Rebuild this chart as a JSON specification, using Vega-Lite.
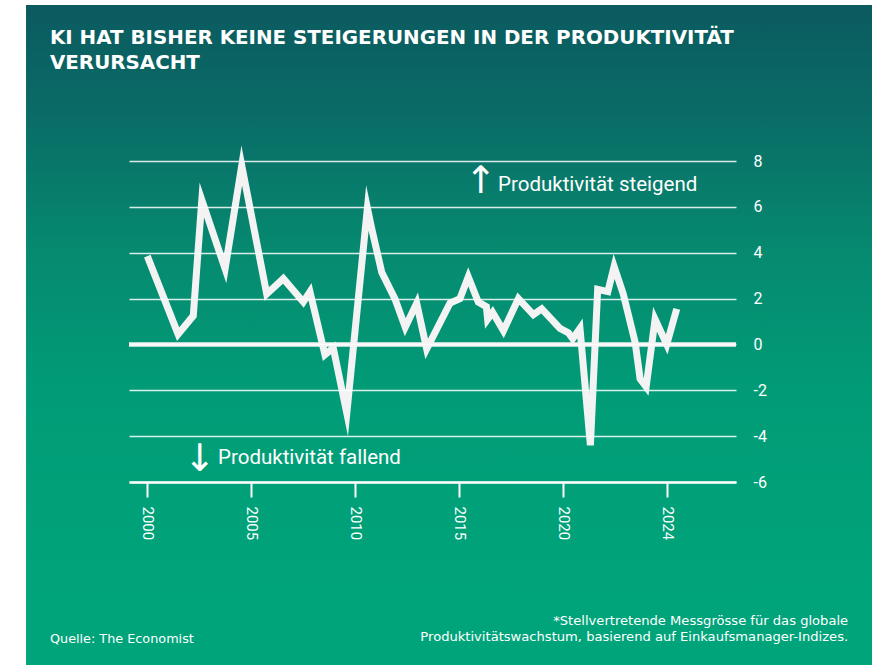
{
  "$schema": "https://vega.github.io/schema/vega-lite/v6.json",
  "width": 607,
  "height": 321,
  "autosize": {"type": "none"},
  "padding": {"left": 129, "top": 161, "right": 136, "bottom": 183},
  "background": "#ffffff",
  "config": {"view": {"stroke": null}, "font": "Roboto"},
  "layer": [
    {
      "data": {"values": [{}]},
      "mark": {
        "type": "rect",
        "fill": {
          "gradient": "linear",
          "x1": 0, "y1": 0, "x2": 0, "y2": 1,
          "stops": [
            {"offset": 0, "color": "#0b5a5f"},
            {"offset": 0.15, "color": "#0a6b66"},
            {"offset": 0.35, "color": "#068a70"},
            {"offset": 0.55, "color": "#019c77"},
            {"offset": 0.8, "color": "#00a37a"},
            {"offset": 1, "color": "#00a57b"}
          ]
        }
      },
      "encoding": {
        "x": {"datum": 1994.17, "type": "quantitative", "scale": {"domain": [1999.12, 2028.3], "nice": false, "zero": false}},
        "x2": {"datum": 2040},
        "y": {"datum": 14.8, "type": "quantitative", "scale": {"domain": [-6, 8], "nice": false, "zero": false}},
        "y2": {"datum": -16}
      }
    },
    {
      "data": {"values": [{}]},
      "mark": {"type": "rule", "color": "#f2f2f2", "strokeWidth": 4.5},
      "encoding": {"y": {"datum": 0, "type": "quantitative"}}
    },
    {
      "data": {"values": [
        {"t": 2000.0, "v": 3.85},
        {"t": 2001.48, "v": 0.45},
        {"t": 2002.21, "v": 1.25},
        {"t": 2002.62, "v": 6.3},
        {"t": 2003.74, "v": 3.3},
        {"t": 2004.54, "v": 7.8},
        {"t": 2005.74, "v": 2.2},
        {"t": 2006.54, "v": 2.87},
        {"t": 2007.5, "v": 1.85},
        {"t": 2007.82, "v": 2.3},
        {"t": 2008.54, "v": -0.45},
        {"t": 2008.94, "v": -0.15},
        {"t": 2009.59, "v": -3.0},
        {"t": 2010.58, "v": 5.95},
        {"t": 2010.8, "v": 5.0},
        {"t": 2011.27, "v": 3.15},
        {"t": 2011.9, "v": 2.0},
        {"t": 2012.4, "v": 0.75},
        {"t": 2012.95, "v": 1.8},
        {"t": 2013.43, "v": -0.2},
        {"t": 2014.55, "v": 1.8},
        {"t": 2015.03, "v": 2.0},
        {"t": 2015.43, "v": 2.95},
        {"t": 2015.91, "v": 1.85},
        {"t": 2016.3, "v": 1.65},
        {"t": 2016.36, "v": 1.1},
        {"t": 2016.6, "v": 1.4},
        {"t": 2017.12, "v": 0.6},
        {"t": 2017.84, "v": 2.0},
        {"t": 2018.56, "v": 1.3},
        {"t": 2018.96, "v": 1.55},
        {"t": 2019.84, "v": 0.7},
        {"t": 2020.25, "v": 0.5},
        {"t": 2020.45, "v": 0.25},
        {"t": 2020.8, "v": 0.7},
        {"t": 2021.3, "v": -4.4},
        {"t": 2021.65, "v": 2.4},
        {"t": 2022.14, "v": 2.3},
        {"t": 2022.44, "v": 3.4},
        {"t": 2022.88, "v": 2.2},
        {"t": 2023.45, "v": 0.1},
        {"t": 2023.69, "v": -1.5},
        {"t": 2023.98, "v": -1.85},
        {"t": 2024.41, "v": 1.1},
        {"t": 2024.97, "v": 0.0},
        {"t": 2025.45, "v": 1.55}
      ]},
      "mark": {"type": "line", "color": "#f3f3f3", "strokeWidth": 7, "strokeJoin": "miter", "strokeMiterLimit": 10, "strokeCap": "butt"},
      "encoding": {
        "x": {
          "field": "t", "type": "quantitative",
          "axis": {
            "orient": "bottom", "title": null, "grid": false,
            "values": [2000, 2005, 2010, 2015, 2020, 2025],
            "labelExpr": "datum.value == 2025 ? '2024' : '' + datum.value",
            "domainColor": "#ffffff", "domainWidth": 2.5,
            "tickColor": "#ffffff", "tickWidth": 2, "tickSize": 15,
            "labelAngle": 90, "labelAlign": "left", "labelBaseline": "middle",
            "labelPadding": 9, "labelFontSize": 15, "labelColor": "#ffffff",
            "labelFont": "Roboto", "labelFlush": false, "labelOverlap": false, "zindex": 1
          }
        },
        "y": {
          "field": "v", "type": "quantitative",
          "axis": {
            "orient": "right", "title": null,
            "values": [-6, -4, -2, 0, 2, 4, 6, 8],
            "labelExpr": "'' + datum.value",
            "domain": false, "ticks": false,
            "grid": true, "gridColor": "#ffffff", "gridWidth": 1.5, "gridOpacity": 0.85,
            "labelPadding": 17, "labelFontSize": 16, "labelColor": "#ffffff",
            "labelFont": "Roboto", "labelOverlap": false, "zindex": 1
          }
        }
      }
    },
    {
      "data": {"values": [{}]},
      "mark": {
        "type": "text",
        "text": ["KI HAT BISHER KEINE STEIGERUNGEN IN DER PRODUKTIVITÄT", "VERURSACHT"],
        "align": "left", "baseline": "alphabetic", "font": "DejaVu Sans", "fontSize": 19.85,
        "fontWeight": "bold", "lineHeight": 25, "color": "#ffffff"
      },
      "encoding": {"x": {"datum": 1995.32, "type": "quantitative"}, "y": {"datum": 13.1, "type": "quantitative"}}
    },
    {
      "data": {"values": [{}]},
      "mark": {"type": "text", "text": "↑", "align": "center", "baseline": "middle", "font": "DejaVu Sans", "fontSize": 38, "color": "#ffffff"},
      "encoding": {"x": {"datum": 2016.04, "type": "quantitative"}, "y": {"datum": 7.1, "type": "quantitative"}}
    },
    {
      "data": {"values": [{}]},
      "mark": {"type": "text", "text": "Produktivität steigend", "align": "left", "baseline": "middle", "font": "Roboto", "fontSize": 20.5, "color": "#ffffff"},
      "encoding": {"x": {"datum": 2016.86, "type": "quantitative"}, "y": {"datum": 6.95, "type": "quantitative"}}
    },
    {
      "data": {"values": [{}]},
      "mark": {"type": "text", "text": "↓", "align": "center", "baseline": "middle", "font": "DejaVu Sans", "fontSize": 38, "color": "#ffffff"},
      "encoding": {"x": {"datum": 2002.53, "type": "quantitative"}, "y": {"datum": -5.04, "type": "quantitative"}}
    },
    {
      "data": {"values": [{}]},
      "mark": {"type": "text", "text": "Produktivität fallend", "align": "left", "baseline": "middle", "font": "Roboto", "fontSize": 20.5, "color": "#ffffff"},
      "encoding": {"x": {"datum": 2003.4, "type": "quantitative"}, "y": {"datum": -4.95, "type": "quantitative"}}
    },
    {
      "data": {"values": [{}]},
      "mark": {"type": "text", "text": "Quelle: The Economist", "align": "left", "baseline": "alphabetic", "font": "DejaVu Sans", "fontSize": 12.8, "color": "#ffffff"},
      "encoding": {"x": {"datum": 1995.32, "type": "quantitative"}, "y": {"datum": -13.0, "type": "quantitative"}}
    },
    {
      "data": {"values": [{}]},
      "mark": {
        "type": "text",
        "text": ["*Stellvertretende Messgrösse für das globale", "Produktivitätswachstum, basierend auf Einkaufsmanager-Indizes."],
        "align": "right", "baseline": "alphabetic", "font": "DejaVu Sans", "fontSize": 13.1, "lineHeight": 15.6, "color": "#ffffff"
      },
      "encoding": {"x": {"datum": 2033.69, "type": "quantitative"}, "y": {"datum": -12.24, "type": "quantitative"}}
    }
  ]
}
